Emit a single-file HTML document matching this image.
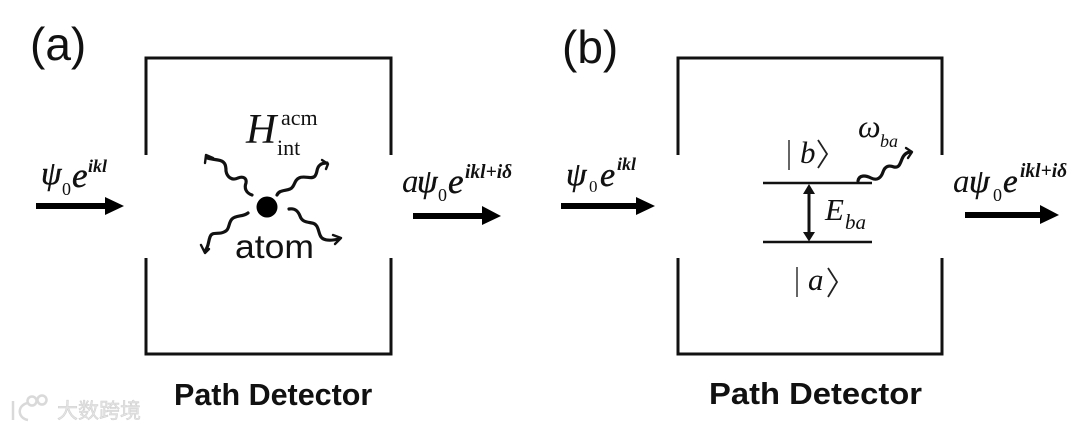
<!DOCTYPE html>
<html><head><meta charset="utf-8"><style>
html,body{margin:0;padding:0;background:#fff;width:1080px;height:430px;overflow:hidden}
svg{display:block}
.m{font-family:"Liberation Serif",serif;font-style:italic;fill:#111}
.p{font-family:"Liberation Serif",serif;font-style:italic;fill:#111;stroke:#111;stroke-width:.5}
.r{font-family:"Liberation Serif",serif;fill:#111}
.b{font-family:"Liberation Serif",serif;font-style:italic;font-weight:bold;fill:#111}
.s{font-family:"Liberation Sans",sans-serif;fill:#111}
.w{fill:none;stroke:#111;stroke-width:3.2;stroke-linecap:round;stroke-linejoin:round}
.h{fill:none;stroke:#111;stroke-width:2.4;stroke-linecap:round;stroke-linejoin:round}
</style></head><body>
<svg width="1080" height="430" viewBox="0 0 1080 430" xmlns="http://www.w3.org/2000/svg">
<text class="s" x="30" y="60" font-size="46">(a)</text>
<text class="s" x="562" y="63" font-size="46">(b)</text>
<path d="M146 155V58H391V155M146 258V354H391V258" fill="none" stroke="#111" stroke-width="3"/>
<path d="M678 155V58H942V155M678 258V354H942V258" fill="none" stroke="#111" stroke-width="3"/>

<!-- incoming a -->
<text class="p" x="41" y="184" font-size="33">ψ</text>
<text class="r" x="62" y="195" font-size="18">0</text>
<text class="p" x="72" y="187" font-size="35">e</text>
<text class="b" x="88" y="172" font-size="18">ikl</text>
<path d="M36 203H105V197L124 206L105 215V209H36Z" fill="#000"/>

<!-- outgoing a -->
<text class="m" x="402" y="192" font-size="33">a</text>
<text class="p" x="417" y="192" font-size="33">ψ</text>
<text class="r" x="438" y="201" font-size="18">0</text>
<text class="p" x="448" y="193" font-size="35">e</text>
<text class="b" x="465" y="178" font-size="19.500">ikl+iδ</text>
<path d="M413 213H482V206L501 216L482 225V219H413Z" fill="#000"/>

<!-- atom -->
<circle cx="267" cy="207" r="10.500" fill="#000"/>
<text class="m" x="246" y="143" font-size="42">H</text>
<text class="r" x="281" y="125" font-size="22">acm</text>
<text class="r" x="277" y="155" font-size="22">int</text>
<text class="s" x="235" y="258" font-size="33" textLength="79" lengthAdjust="spacingAndGlyphs">atom</text>

<path class="w" d="M252 195C246 193 244 188 246 183C247 178 243 176 238 178C232 181 227 177 226 171C226 165 225 161 218 160C213 159 210 159 207 158"/>
<path class="h" d="M205 163L206 155L213 158"/>
<path class="w" d="M277 195C279 190 285 191 290 189C295 187 294 180 299 178C304 175 312 180 315 176C318 172 316 168 320 165C322 163 325 163 327 163"/>
<path class="h" d="M322 160L328 164L326 169"/>
<path class="w" d="M248 213C243 217 236 215 232 219C228 223 230 230 224 232C218 235 212 231 210 237C208 242 209 246 205 251"/>
<path class="h" d="M201 245L205 253L209 249"/>
<path class="w" d="M289 209C295 208 298 211 300 216C302 222 307 222 312 223C318 224 318 230 320 235C322 241 330 241 339 239"/>
<path class="h" d="M333 235L341 238L335 244"/>

<!-- incoming b -->
<text class="p" x="566" y="185" font-size="33">ψ</text>
<text class="r" x="589" y="192" font-size="17">0</text>
<text class="p" x="600" y="186" font-size="34">e</text>
<text class="b" x="617" y="170" font-size="18">ikl</text>
<path d="M561 203H636V197L655 206L636 215V209H561Z" fill="#000"/>

<!-- levels -->
<path d="M763 183H872M763 242H872" stroke="#111" stroke-width="2.500" fill="none"/>
<path d="M809 190V236" stroke="#111" stroke-width="3"/>
<path d="M803 194L809 184L815 194ZM803 232L809 241.500L815 232Z" fill="#111"/>
<text class="m" x="825" y="220" font-size="31">E</text>
<text class="m" x="845" y="229" font-size="21">ba</text>
<path d="M789 140V170M797 267V297" stroke="#333" stroke-width="1.500"/>
<text class="m" x="800" y="163" font-size="31">b</text>
<path d="M818 140L827 154L818 168" stroke="#222" stroke-width="1.800" fill="none"/>
<text class="m" x="808" y="290" font-size="31">a</text>
<path d="M828 268L837 282L828 297" stroke="#222" stroke-width="1.800" fill="none"/>
<text class="m" x="858" y="137" font-size="32">ω</text>
<text class="m" x="880" y="147" font-size="18">ba</text>
<path class="w" d="M858 181C859 175 865 175 871 178C877 181 881 178 883 172C885 166 889 165 894 167C899 168 900 164 902 159C904 154 907 152 911 152"/>
<path class="h" d="M906 148L912 152L908 158"/>

<!-- outgoing b -->
<text class="m" x="953" y="192" font-size="33">a</text>
<text class="p" x="969" y="192" font-size="33">ψ</text>
<text class="r" x="993" y="201" font-size="18">0</text>
<text class="p" x="1003" y="192" font-size="33">e</text>
<text class="b" x="1020" y="177" font-size="19.500">ikl+iδ</text>
<path d="M965 212H1040V205L1059 215L1040 224V218H965Z" fill="#000"/>

<text class="s" x="174" y="405" font-size="30.500" font-weight="bold">Path Detector</text>
<text class="s" x="709" y="404" font-size="31" font-weight="bold" textLength="213" lengthAdjust="spacingAndGlyphs">Path Detector</text>

<!-- watermark -->
<g fill="none" stroke="#d9d9d9" stroke-width="2.500">
<path d="M13 401V420M28 403C17 405 17 418 28 420"/>
<circle cx="32" cy="401" r="4.500"/><circle cx="42" cy="400" r="4.500"/>
</g>
<text x="57" y="418" font-size="21" font-family="'Liberation Sans','Noto Sans CJK SC',sans-serif" fill="#e4e4e4" stroke="#cfcfcf" stroke-width=".5">大数跨境</text>
</svg>
</body></html>
